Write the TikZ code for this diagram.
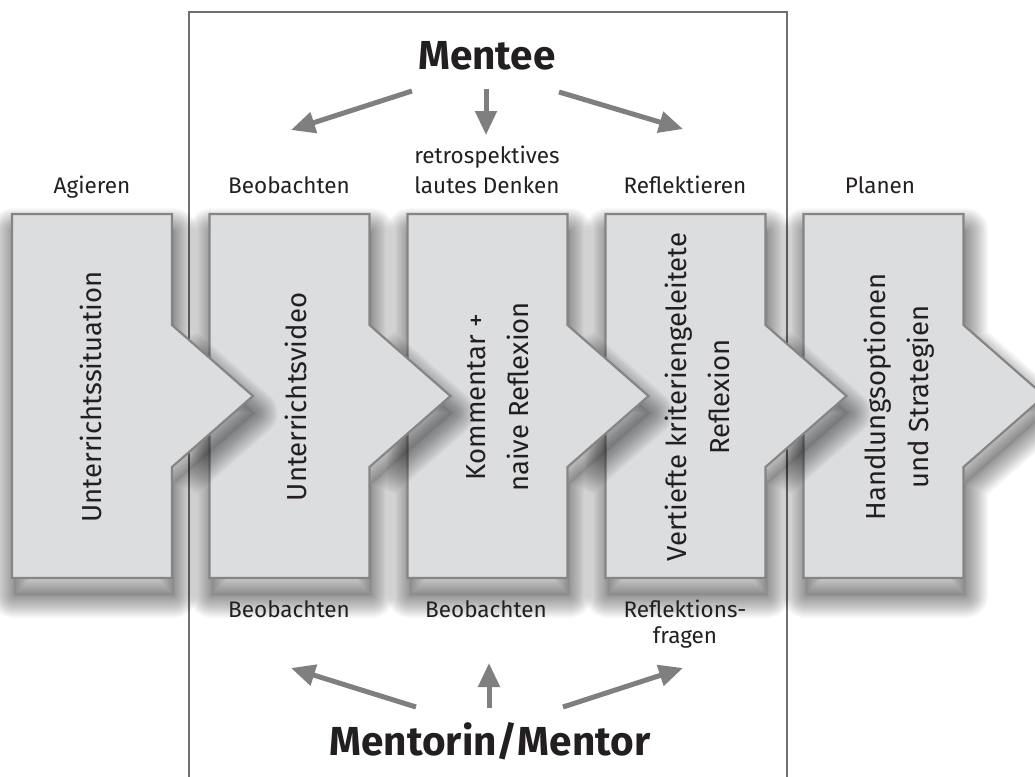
\documentclass[tikz,border=0pt]{standalone}
\usepackage{fontspec}
\setmainfont{Fira Sans}
\usetikzlibrary{arrows.meta}
\definecolor{boxfill}{HTML}{DCDDDF}
\definecolor{boxline}{HTML}{858585}
\definecolor{arrowgray}{HTML}{7F7F7F}
\definecolor{txt}{HTML}{231F20}
\definecolor{framegray}{HTML}{707070}
\begin{document}
\begin{tikzpicture}[x=1pt,y=-1pt,
  chevron/.style={fill=boxfill, draw=boxline, line width=2.2pt, line join=miter},
  softshade/.style={draw=black, draw opacity=0.018, line join=round},
  boxtext/.style={rotate=90, font=\fontsize{27.5}{43}\selectfont, align=center, text=txt, inner sep=0pt},
  lbl/.style={font=\fontsize{22.5}{29}\selectfont, align=center, text=txt, inner sep=0pt},
  role/.style={font=\fontsize{40.5}{48}\selectfont\bfseries, text=txt, inner sep=0pt, anchor=base},
  marrow/.style={draw=arrowgray, line width=5pt, -{Triangle[width=21pt,length=24pt]}},
  frame/.style={draw=framegray, line width=1.5pt}]
\fill[white] (0,0) rectangle (1035,776);
\path[use as bounding box] (0,0) rectangle (1035,776);
% frame
\draw[frame] (189,780) -- (189,12) -- (787,12) -- (787,780);
% chevrons with soft shadows, drawn right to left
\foreach \L in {803.5,605.5,407.5,209.5,12}{
  \begin{scope}[shift={(\L+2,17)}]
    \foreach \w in {46,44,...,2}{
      \draw[softshade, line width=\w pt] (0,214) -- ++(160,0) -- ++(0,111) -- ++(81,71) -- ++(-81,71)
        -- ++(0,111) -- ++(-160,0) -- cycle;
    }
    \fill[black, opacity=0.08] (0,214) -- ++(160,0) -- ++(0,111) -- ++(81,71) -- ++(-81,71)
        -- ++(0,111) -- ++(-160,0) -- cycle;
  \end{scope}
  \draw[chevron] (\L,214) -- ++(160,0) -- ++(0,111) -- ++(81,71) -- ++(-81,71)
     -- ++(0,111) -- ++(-160,0) -- cycle;
}
% box texts
\node[boxtext] (b1) at (91,397) {Unterrichtssituation};
\node[boxtext] (b2) at (296,397) {Unterrichtsvideo};
\node[boxtext] (b3) at (498,397) {Kommentar +\\naive Reflexion};
\node[boxtext] (b4) at (697,397) {Vertiefte kriteriengeleitete\\Reflexion};
\node[boxtext] (b5) at (899,397) {Handlungsoptionen\\und Strategien};
% top labels
\node[lbl, anchor=base] (l1) at (92,193) {Agieren};
\node[lbl, anchor=base] (l2) at (289,193) {Beobachten};
\node[lbl, anchor=base] (l3a) at (487,163) {retrospektives};
\node[lbl, anchor=base] (l3b) at (487,193) {lautes Denken};
\node[lbl, anchor=base] (l4) at (685,193) {Reflektieren};
\node[lbl, anchor=base] (l5) at (880,193) {Planen};
% bottom labels
\node[lbl, anchor=base] (m2) at (289,617) {Beobachten};
\node[lbl, anchor=base] (m3) at (486,617) {Beobachten};
\node[lbl, anchor=base] (m4a) at (685,617) {Reflektions-};
\node[lbl, anchor=base] (m4b) at (685,643) {fragen};
% roles
\node[role] (mentee) at (487,70) {Mentee};
\node[role] (mentor) at (490,755) {Mentorin/Mentor};
% arrow end points
\coordinate (t1s) at (412,91);  \coordinate (t1e) at (291,130);
\coordinate (t2s) at (486,89);  \coordinate (t2e) at (486,135);
\coordinate (t3s) at (559,92);  \coordinate (t3e) at (683,129);
\coordinate (u1s) at (416,707); \coordinate (u1e) at (291,668);
\coordinate (u2s) at (489,708); \coordinate (u2e) at (489,663);
\coordinate (u3s) at (563,707); \coordinate (u3e) at (683,668);
\draw[marrow] (t1s) -- (t1e);
\draw[marrow] (t2s) -- (t2e);
\draw[marrow] (t3s) -- (t3e);
\draw[marrow] (u1s) -- (u1e);
\draw[marrow] (u2s) -- (u2e);
\draw[marrow] (u3s) -- (u3e);
\end{tikzpicture}
\end{document}
